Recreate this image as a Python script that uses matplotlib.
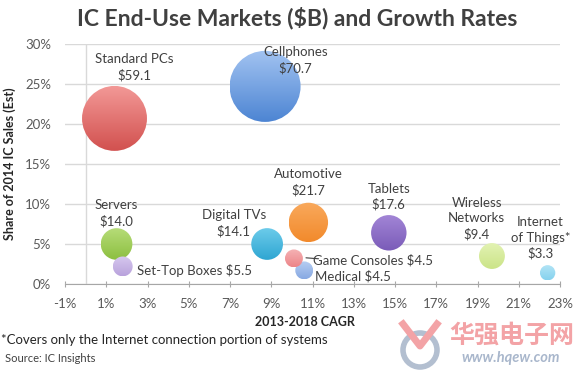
import numpy as np
import matplotlib.pyplot as plt
from matplotlib.patches import Circle, Ellipse
from matplotlib.transforms import IdentityTransform
from matplotlib.colors import to_rgb

plt.rcParams['font.family'] = ['Lato', 'DejaVu Sans']

# data
markets = ['Standard PCs', 'Cellphones', 'Servers', 'Set-Top Boxes', 'Digital TVs',
           'Automotive', 'Medical', 'Game Consoles', 'Tablets', 'Wireless\nNetworks',
           'Internet\nof Things*']
cagr = [1.4, 8.7, 1.5, 1.8, 8.8, 10.8, 10.6, 10.1, 14.7, 19.7, 22.4]
share = [20.7, 24.7, 5.0, 2.2, 5.0, 7.7, 1.7, 3.2, 6.4, 3.5, 1.4]
sales = [59.1, 70.7, 14.0, 5.5, 14.1, 21.7, 4.5, 4.5, 17.6, 9.4, 3.3]
xticks = list(range(-1, 24, 2))
yticks = [0, 5, 10, 15, 20, 25, 30]

# (top colour, bottom colour) of each bubble
colors = [('#f29896', '#d2514f'), ('#a2c3f1', '#4d85d3'), ('#b6dc78', '#8cbf40'),
          ('#d6c8ee', '#b9a2dc'), ('#6ccbea', '#2fa6d2'), ('#f9a95c', '#f28a2c'),
          ('#b6cdf2', '#87a9e2'), ('#f5b2b4', '#ec8589'), ('#a285d6', '#7a5bb8'),
          ('#e2f2b2', '#cbe488'), ('#b4e5f6', '#86d2ee')]
# label layout: (dx, dy) in points, ha, one line?
layout = [(14, 37, 'center', False), (22, 19, 'center', False), (0, 22, 'center', False),
          (10, -3, 'left', True), (-24, 15, 'center', False), (0, 29, 'center', False),
          (8, -4, 'left', True), (14, -1, 'left', True), (0, 26, 'center', False),
          (-11, 27, 'center', False), (-5, 25, 'center', False)]
k = 37  # points^2 per $B

fig = plt.figure(figsize=(5.78, 3.73), dpi=100)
ax = fig.add_axes([65 / 578, 89 / 373, 495 / 578, 240 / 373])
ax.set_xlim(-1, 23)
ax.set_ylim(0, 30)

inv = ax.transData.inverted()
for i, (x, y, v) in enumerate(zip(cagr, share, sales)):
    cx, cy = ax.transData.transform((x, y))
    r = np.sqrt(v * k) / 72 * fig.dpi / 2
    top, bot = np.array(to_rgb(colors[i][0])), np.array(to_rgb(colors[i][1]))
    t = np.linspace(0, 1, 64)[:, None, None]
    grad = bot * (1 - t) + top * t
    x0, y0 = inv.transform((cx - r, cy - r))
    x1, y1 = inv.transform((cx + r, cy + r))
    im = ax.imshow(grad, extent=[x0, x1, y0, y1], origin='lower', aspect='auto',
                   interpolation='bilinear', zorder=3 + i * 0.01)
    im.set_clip_path(Circle((cx, cy), r, transform=IdentityTransform()))

txt = '#404040'
for name, x, y, v, (dx, dy, ha, one) in zip(markets, cagr, share, sales, layout):
    label = f'{name} ${v:.1f}' if one else f'{name}\n${v:.1f}'
    ax.annotate(label, (x, y), xytext=(dx, dy), textcoords='offset points',
                ha=ha, va='center', fontsize=9.5, color=txt, linespacing=1.35, zorder=5)

# leader line for Game Consoles
i = markets.index('Game Consoles')
ax.annotate('', (cagr[i] + 0.45, share[i] + 0.1), xytext=(13, -1), textcoords='offset points',
            arrowprops=dict(arrowstyle='-', color='#404040', lw=0.8), zorder=5)

ax.set_xlim(-1, 23)
ax.set_ylim(0, 30)
ax.set_xticks(xticks)
ax.set_xticklabels([f'{t}%' for t in xticks])
ax.set_yticks(yticks)
ax.set_yticklabels([f'{t}%' for t in yticks])
ax.tick_params(axis='x', length=4, direction='inout', color='#a6a6a6', labelsize=9.5,
               labelcolor='#595959', pad=8)
ax.tick_params(axis='y', length=0, labelsize=9.5, labelcolor='#595959', pad=10)
ax.grid(axis='y', color='#d9d9d9', lw=1, zorder=0)
ax.axvline(0, color='#d9d9d9', lw=1, zorder=1)
for s in ['top', 'right', 'left']:
    ax.spines[s].set_visible(False)
ax.spines['bottom'].set_color('#a6a6a6')
ax.set_axisbelow(True)

fig.text(0.515, 1 - 18 / 373, 'IC End-Use Markets ($B) and Growth Rates', ha='center', va='center',
         fontsize=16.5, fontweight='bold', color='#404040')
fig.text(10 / 578, 1 - 164 / 373, 'Share of 2014 IC Sales (Est)', rotation=90, ha='center',
         va='center', fontsize=9, fontweight='bold', color='#262626')
fig.text(305 / 578, 1 - 322 / 373, '2013-2018 CAGR', ha='center', va='center',
         fontsize=9, fontweight='bold', color='#262626')
fig.text(1 / 578, 1 - 340 / 373, '*Covers only the Internet connection portion of systems',
         ha='left', va='center', fontsize=9.5, color='#262626')
fig.text(5 / 578, 1 - 358 / 373, 'Source: IC Insights', ha='left', va='center',
         fontsize=8, color='#404040')

# watermark
fig.add_artist(Ellipse((420 / 578, 1 - 350 / 373), 34 / 578, 34 / 373, fill=False,
                       ec='#b3bfd0', lw=4, transform=fig.transFigure))
fig.add_artist(plt.Line2D([403 / 578, 420 / 578, 437 / 578],
                          [1 - 324 / 373, 1 - 346 / 373, 1 - 324 / 373],
                          color='#f3a3a6', lw=5, transform=fig.transFigure))
fig.text(512 / 578, 1 - 336 / 373, '华强电子网', ha='center', va='center', fontsize=18,
         color='#f3a3a6', family=['Noto Sans CJK SC', 'DejaVu Sans'], fontweight='bold')
fig.text(511 / 578, 1 - 358 / 373, 'www.hqew.com', ha='center', va='center', fontsize=10.5,
         color='#a9b7cc', fontweight='bold', style='italic')

fig.savefig('out.png', dpi=100)
